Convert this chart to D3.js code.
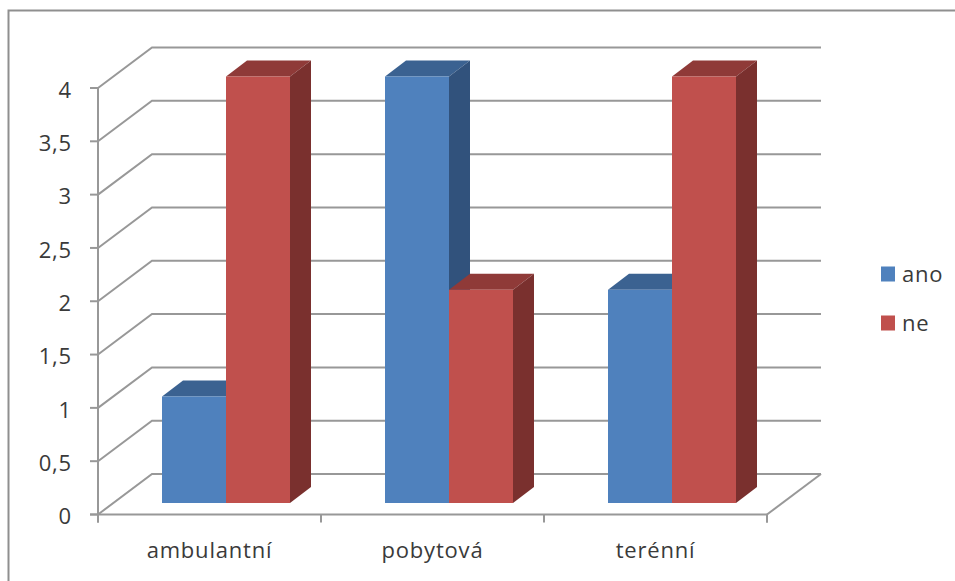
<!DOCTYPE html>
<html lang="cs">
<head>
<meta charset="utf-8">
<script src="https://cdn.jsdelivr.net/npm/d3@7"></script>
<style>
html,body{margin:0;padding:0;background:#fff}
svg{display:block}
text{font-family:"Open Sans","Noto Sans",sans-serif;fill:#3a3a3a;letter-spacing:0.8px}
</style>
</head>
<body>
<svg id="chart" width="955" height="581"></svg>
<script>
// Chart data
const categories = ["ambulantní", "pobytová", "terénní"];
const seriesNames = ["ano", "ne"];
const anoValues = [1, 4, 2];
const neValues = [4, 2, 4];
const yTicks = [0, 0.5, 1, 1.5, 2, 2.5, 3, 3.5, 4];

// Colours per series: front, top and side faces
const faceColours = {
  ano: { front: "#4f81bd", top: "#3b6291", side: "#31527c" },
  ne:  { front: "#c0504d", top: "#8f3a38", side: "#7a302e" }
};
const gridColour = "#989898";

// Oblique projection: the box runs from the front axes to the back wall
const plot = { x0: 98, x1: 767, y0: 514.5, y1: 88 };
const depth = { dx: 54, dy: -40.5 };
const barOffset = { dx: 0, dy: -11.5 };
const barDepth = { dx: 21, dy: -16 };

const svg = d3.select("#chart");

const y = d3.scaleLinear().domain([0, 4]).range([plot.y0, plot.y1]);
const xOuter = d3.scaleBand().domain(categories).range([plot.x0, plot.x1]);
const xInner = d3.scaleBand().domain(seriesNames).range([64, 192]);

// Outer frame
svg.append("path")
  .attr("d", "M8.5,581V10.5H955")
  .attr("fill", "none").attr("stroke", "#8f8f8f").attr("stroke-width", 2);

// Gridlines on the side wall and the back wall
const grid = svg.append("g").attr("fill", "none")
  .attr("stroke", gridColour).attr("stroke-width", 2);
grid.selectAll("path").data(yTicks).join("path")
  .attr("d", v => d3.line()([
    [plot.x0, y(v)],
    [plot.x0 + depth.dx, y(v) + depth.dy],
    [plot.x1 + depth.dx, y(v) + depth.dy]
  ]));

// Right edge of the floor
grid.append("path").attr("d", d3.line()([
  [plot.x1, plot.y0],
  [plot.x1 + depth.dx, plot.y0 + depth.dy]
]));

// Bars as three-faced boxes, drawn back to front
const records = categories.flatMap((c, i) => [
  { category: c, series: "ano", value: anoValues[i] },
  { category: c, series: "ne", value: neValues[i] }
]);

const bars = svg.append("g").selectAll("g").data(records).join("g");

function corners(d) {
  const l = xOuter(d.category) + xInner(d.series) + barOffset.dx;
  const r = l + xInner.bandwidth();
  const b = y(0) + barOffset.dy;
  const t = y(d.value) + barOffset.dy;
  return { l, r, b, t };
}

bars.append("path")
  .attr("fill", d => faceColours[d.series].top)
  .attr("d", d => {
    const { l, r, t } = corners(d);
    return d3.line()([[l, t], [l + barDepth.dx, t + barDepth.dy],
      [r + barDepth.dx, t + barDepth.dy], [r, t]]) + "Z";
  });

bars.append("path")
  .attr("fill", d => faceColours[d.series].side)
  .attr("d", d => {
    const { r, t, b } = corners(d);
    return d3.line()([[r, t], [r + barDepth.dx, t + barDepth.dy],
      [r + barDepth.dx, b + barDepth.dy], [r, b]]) + "Z";
  });

bars.append("path")
  .attr("fill", d => faceColours[d.series].front)
  .attr("d", d => {
    const { l, r, t, b } = corners(d);
    return d3.line()([[l, t], [r, t], [r, b], [l, b]]) + "Z";
  });

// Value axis
const yAxis = svg.append("g")
  .attr("transform", `translate(${plot.x0},0)`)
  .call(d3.axisLeft(y).tickValues(yTicks).tickSize(8).tickPadding(18).offset(0)
    .tickFormat(v => String(v).replace(".", ",")));
yAxis.selectAll("path,line").attr("stroke", gridColour).attr("stroke-width", 2);
yAxis.selectAll("text").attr("font-size", 22).attr("font-family", null)
  .attr("dy", "0.44em");

// Category axis: ticks fall on the band edges, labels at the band centres
const edges = [...categories.map(c => xOuter(c)), plot.x1];
const xEdge = d3.scaleLinear().domain([plot.x0, plot.x1]).range([plot.x0, plot.x1]);
const xAxis = svg.append("g")
  .attr("transform", `translate(0,${plot.y0})`)
  .call(d3.axisBottom(xEdge).tickValues(edges).tickSize(8).offset(0).tickFormat(""));
xAxis.selectAll("path,line").attr("stroke", gridColour).attr("stroke-width", 2);

svg.append("g").selectAll("text").data(categories).join("text")
  .attr("x", c => xOuter(c) + xOuter.bandwidth() / 2)
  .attr("y", 558)
  .attr("text-anchor", "middle")
  .attr("font-size", 22)
  .text(c => c);

// Legend
const legend = svg.append("g").selectAll("g").data(seriesNames).join("g")
  .attr("transform", (d, i) => `translate(881,${266.5 + i * 49})`);
legend.append("rect")
  .attr("width", 14).attr("height", 15)
  .attr("fill", d => faceColours[d].front);
legend.append("text")
  .attr("x", 21).attr("y", 15.5)
  .attr("font-size", 22)
  .text(d => d);
</script>
</body>
</html>
